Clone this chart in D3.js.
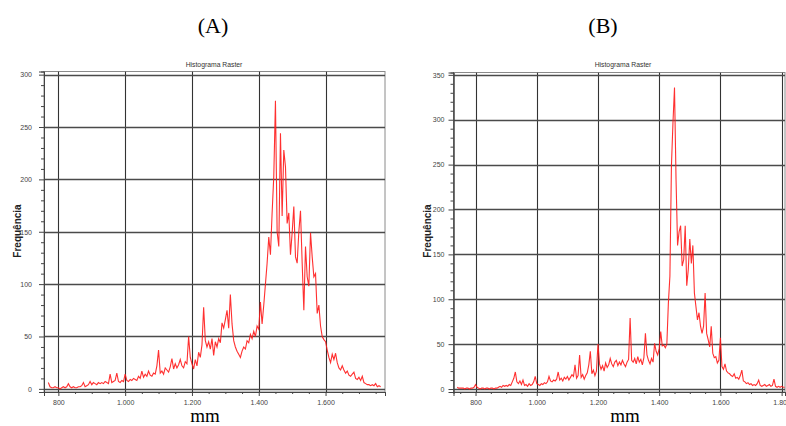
<!DOCTYPE html>
<html><head><meta charset="utf-8">
<script src="https://cdn.jsdelivr.net/npm/d3@7/dist/d3.min.js"></script>
<style>body{margin:0;background:#fff}</style>
</head><body>
<svg id="c" width="786" height="426"></svg>
<script>
// ---- data ----
const stepMM = 5;
const startA = 770;
const freqA = [6,2,1,1,2,1,1,0,1,2,1,2,5,2,1,2,1,1,2,2,3,6,2,3,4,7,4,6,5,4,6,5,6,5,7,6,5,14,6,7,8,15,7,6,8,7,
14,8,7,9,8,10,9,8,12,10,17,11,14,12,17,13,12,15,14,22,37,15,17,14,20,18,16,21,29,19,24,20,23,28,22,20,26,24,50,30,
24,19,28,22,35,30,42,78,46,40,45,38,48,32,45,40,48,44,63,58,66,75,58,90,62,46,40,36,33,30,36,40,38,46,44,52,48,55,50,60,
57,83,62,80,100,120,145,128,168,203,275,150,136,244,165,228,212,158,168,128,149,174,126,120,150,170,120,75,136,107,98,149,126,107,110,72,80,60,50,47,
45,37,30,25,33,28,34,25,20,18,22,18,15,17,13,12,14,16,10,9,11,8,12,6,5,4,4,3,4,3,5,2,3,2];
const startB = 740;
const freqB = [2,1,1,1,1,0,1,1,0,1,1,2,5,2,1,0,1,1,0,1,1,0,1,1,0,1,1,2,3,2,4,3,4,3,5,4,8,12,19,8,6,9,5,10,4,5,3,6,4,5,8,14,
6,5,4,6,5,7,6,8,14,9,8,10,9,11,19,10,12,9,13,11,14,10,13,16,14,27,12,15,38,13,16,11,15,18,27,42,17,21,15,20,
50,28,22,26,20,29,24,27,34,28,25,30,32,26,30,27,32,28,25,30,33,79,32,30,34,28,36,30,33,27,35,62,38,32,28,34,30,51,42,38,
45,64,48,49,46,50,96,126,249,297,336,234,160,175,182,137,144,182,115,133,167,140,160,107,92,77,85,70,62,70,107,62,55,47,70,40,35,36,29,32,
57,25,22,28,20,18,17,15,14,17,12,13,11,15,21,9,8,6,7,5,6,4,5,4,6,10,4,3,4,5,3,4,5,3,4,11,3,2,3,2,3,2,2];
const xTicks = [800,1000,1200,1400,1600,1800];
const xTickLabels = ["800","1.000","1.200","1.400","1.600","1.800"];
const yTicksA = [0,50,100,150,200,250,300];
const yTicksB = [0,50,100,150,200,250,300,350];
const panelLabels = ["(A)","(B)"];
const titleText = "Histograma Raster";
const yLabel = "Frequência";
const xLabel = "mm";

const svg = d3.select("#c");

function panel(cfg){
  const data = cfg.values.map((v,i)=>({x: cfg.start + i*stepMM, y: v}));
  const x = d3.scaleLinear().domain(cfg.xDom).range([cfg.l, cfg.r]);
  const y = d3.scaleLinear().domain(cfg.yDom).range([cfg.b, cfg.t]);
  const xT = xTicks.filter(v=>v>=cfg.xDom[0] && v<=cfg.xDom[1]+15);
  const g = svg.append("g");
  const clipId = "clip"+cfg.id;
  svg.append("clipPath").attr("id",clipId).append("rect")
    .attr("x",cfg.l).attr("y",cfg.t).attr("width",cfg.r-cfg.l).attr("height",cfg.b-cfg.t);
  // frame
  g.append("rect").attr("x",cfg.l).attr("y",cfg.t).attr("width",cfg.r-cfg.l).attr("height",cfg.b-cfg.t)
    .attr("fill","#fff").attr("stroke","#8a8a8a").attr("stroke-width",1);
  const gridG = g.append("g").attr("clip-path",`url(#${clipId})`);
  gridG.selectAll("line.v").data(xT).join("line")
    .attr("x1",d=>Math.round(x(d))+0.5).attr("x2",d=>Math.round(x(d))+0.5)
    .attr("y1",cfg.t).attr("y2",cfg.b).attr("stroke","#333").attr("stroke-width",1.1);
  gridG.selectAll("line.h").data(cfg.yTicks).join("line")
    .attr("y1",d=>Math.round(y(d))+0.5).attr("y2",d=>Math.round(y(d))+0.5)
    .attr("x1",cfg.l).attr("x2",cfg.r).attr("stroke","#4a4a4a").attr("stroke-width",1.3);
  // data line
  g.append("path").datum(data).attr("clip-path",`url(#${clipId})`)
    .attr("fill","none").attr("stroke","#ff1a1a").attr("stroke-width",1.1).attr("stroke-opacity",0.9)
    .attr("d", d3.line().x(d=>x(d.x)).y(d=>y(d.y)));
  // axes
  const ax = g.append("g").attr("transform",`translate(0,${cfg.b})`)
    .call(d3.axisBottom(x).tickValues(xT).tickFormat(d=>xTickLabels[xTicks.indexOf(d)]).tickSize(4).tickPadding(4));
  const axm = g.append("g").attr("transform",`translate(0,${cfg.b})`)
    .call(d3.axisBottom(x).tickValues(d3.range(750,1850,50).filter(v=>v%200!==0 && v>=cfg.xDom[0] && v<=cfg.xDom[1])).tickFormat("").tickSize(2));
  const ay = g.append("g").attr("transform",`translate(${cfg.l},0)`)
    .call(d3.axisLeft(y).tickValues(cfg.yTicks).tickSize(5).tickPadding(cfg.ypad));
  const aym = g.append("g").attr("transform",`translate(${cfg.l},0)`)
    .call(d3.axisLeft(y).tickValues(d3.range(0,cfg.yDom[1],10).filter(v=>v%50!==0)).tickFormat("").tickSize(3));
  [ax,axm,ay,aym].forEach(a=>{
    a.select(".domain").attr("stroke","#444");
    a.selectAll(".tick line").attr("stroke","#444");
    a.selectAll("text").attr("font-family","'Liberation Sans', Arial, sans-serif").attr("font-size",7).attr("fill","#444");
  });
  // title
  svg.append("text").attr("x",cfg.titleX).attr("y",67).attr("text-anchor","middle")
    .attr("font-family","'Liberation Sans', Arial, sans-serif").attr("font-size",6.8).attr("fill","#333").text(titleText);
  // y label
  svg.append("text").attr("transform",`translate(${cfg.ylabX},${231}) rotate(-90)`).attr("text-anchor","middle")
    .attr("font-family","'Liberation Sans', Arial, sans-serif").attr("font-weight","bold").attr("font-size",10).attr("fill","#222").text(yLabel);
  // x label
  svg.append("text").attr("x",cfg.xlabX).attr("y",422).attr("text-anchor","middle")
    .attr("font-family","'Liberation Serif', 'Times New Roman', serif").attr("font-size",19).attr("fill","#000").text(xLabel);
  // panel label
  svg.append("text").attr("x",cfg.panX).attr("y",33).attr("text-anchor","middle")
    .attr("font-family","'Liberation Serif', 'Times New Roman', serif").attr("font-size",22).attr("fill","#000").text(cfg.panel);
}

panel({id:"A", values:freqA, start:startA, xDom:[757,1778], yDom:[-3,303], l:44, r:385, t:71.5, b:392, ypad:7,
  yTicks:yTicksA, titleX:214, ylabX:21, xlabX:205, panX:213, panel:panelLabels[0]});
panel({id:"B", values:freqB, start:startB, xDom:[728,1811], yDom:[-3.3,352.6], l:453.5, r:785, t:72.5, b:392, ypad:4,
  yTicks:yTicksB, titleX:623, ylabX:431, xlabX:625, panX:603, panel:panelLabels[1]});
</script>
</body></html>
